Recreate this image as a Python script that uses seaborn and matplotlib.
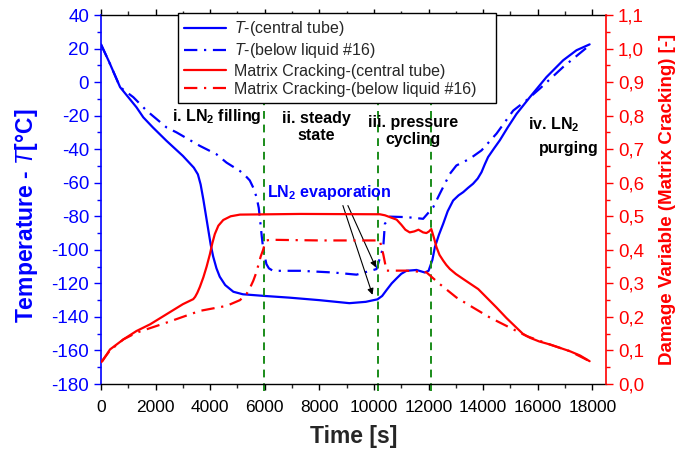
import numpy as np
import matplotlib
matplotlib.use("Agg")
import matplotlib.pyplot as plt
from matplotlib.ticker import MultipleLocator, FuncFormatter
import seaborn as sns

sns.set_style("ticks")
plt.rcParams['font.family'] = ['Liberation Sans', 'DejaVu Sans']
plt.rcParams['mathtext.fontset'] = 'custom'
plt.rcParams['mathtext.rm'] = 'Liberation Sans'
plt.rcParams['mathtext.it'] = 'Liberation Sans:italic'
plt.rcParams['mathtext.bf'] = 'Liberation Sans:bold'
plt.rcParams['axes.unicode_minus'] = False

# temperature, central tube
t_central = [0, 300, 700, 1000, 1300, 1550, 1900, 2400, 3000, 3400, 3550, 3650, 3750, 3850, 3930,
             4020, 4110, 4230, 4350, 4550, 4850, 5200, 6000, 6900, 8000, 9100, 9700, 10130, 10300,
             10460, 10650, 10830, 11000, 11190, 11560, 11860, 12000, 12140, 12230, 12380, 12535,
             12700, 12900, 13100, 13270, 13450, 13630, 13800, 13940, 14060, 14180, 14400, 14610,
             14900, 15220, 15710, 16320, 16930, 17420, 17900]
T_central = [22.5, 12, -3, -9, -15, -21, -27, -35, -44, -51, -55, -61, -70, -80, -88,
             -97, -104, -111, -116, -121, -125, -126.5, -127.5, -128.5, -130, -131.8, -131, -129.5, -127.5,
             -124, -120, -117, -114.3, -112.5, -112, -113.5, -112.5, -106, -98.5, -91, -84.5,
             -77, -70.6, -67.5, -65.6, -63, -60.6, -57.5, -53.7, -49, -44.7, -39.5, -34.7,
             -27, -19, -9, 3, 13, 19, 22.5]

# temperature, below liquid #16
t_below = [0, 300, 700, 1185, 1670, 2400, 2770, 3620, 4230, 4600, 5090, 5300, 5450, 5580, 5700,
           5780, 5840, 5890, 5940, 6000, 6060, 6150, 6300, 7300, 8500, 9360, 10090, 10340, 10400,
           10580, 11200, 11800, 12170, 12410, 12780, 13020, 13510, 13940, 14490, 15100, 15590,
           16080, 16930, 17900]
T_below = [22.5, 12, -3, -9, -17, -27, -30, -38, -43, -48, -53, -56, -58.6, -63, -68.6,
           -75, -84, -92, -99, -104, -108.5, -111, -112.5, -112.5, -113.5, -114.8, -111.5, -98.5, -84.5,
           -80.2, -80.5, -81.5, -74.6, -66.6, -54.7, -49.7, -45.7, -40.7, -30.7, -17, -10.8,
           -3.8, 9, 22]

# damage variable, central tube
d_central_t = [0, 60, 330, 820, 1300, 1800, 2400, 3000, 3380, 3450, 3530, 3625, 3750, 3870, 3990,
               4080, 4170, 4300, 4480, 4750, 5090, 7300, 10215, 10400, 10600, 10830, 11000, 11150,
               11310, 11480, 11630, 11800, 11920, 12020, 12100, 12200, 12290, 12400, 12535, 12650,
               12780, 13000, 13270, 13820, 14100, 14490, 14850, 15220, 15450, 15710, 16050, 16440,
               17170, 17550, 17900]
D_central = [0.065, 0.069, 0.103, 0.133, 0.158, 0.178, 0.208, 0.238, 0.253, 0.26, 0.272, 0.29, 0.318, 0.35, 0.387,
             0.42, 0.447, 0.472, 0.489, 0.5, 0.505, 0.507, 0.506, 0.503, 0.497, 0.49, 0.475, 0.46,
             0.452, 0.455, 0.46, 0.452, 0.45, 0.455, 0.462, 0.435, 0.408, 0.385, 0.368, 0.355,
             0.343, 0.328, 0.313, 0.283, 0.26, 0.228, 0.197, 0.168, 0.15, 0.138, 0.127, 0.118,
             0.098, 0.085, 0.068]

# damage variable, below liquid #16
d_below_t = [0, 330, 820, 1300, 2400, 3620, 4600, 5090, 5330, 5450, 5580, 5680, 5760, 5850, 5940,
             6000, 6070, 6200, 8000, 10215, 10340, 10460, 11190, 11920, 12410, 13020, 13630, 14250,
             14860, 15590, 16440, 17170, 17900]
D_below = [0.065, 0.1, 0.133, 0.153, 0.183, 0.218, 0.233, 0.25, 0.268, 0.285, 0.308, 0.33, 0.353, 0.38, 0.40,
           0.418, 0.428, 0.43, 0.428, 0.428, 0.387, 0.338, 0.338, 0.333, 0.298, 0.258, 0.228, 0.198,
           0.173, 0.143, 0.118, 0.098, 0.068]

phase_lines = [5970, 10140, 12100]

BLUE = '#0000ff'
RED = '#ff0000'
dashdot = (0, (6, 3, 1, 3))

fig = plt.figure(figsize=(6.94, 4.55), dpi=100)
ax = fig.add_axes([0.1455, 0.156, 0.7277, 0.811])
ax2 = ax.twinx()

sns.lineplot(x=t_central, y=T_central, ax=ax, color=BLUE, lw=1.6, sort=False,
             estimator=None, label='$T$-(central tube)')
sns.lineplot(x=t_below, y=T_below, ax=ax, color=BLUE, lw=1.6, sort=False,
             estimator=None, ls=dashdot, label='$T$-(below liquid #16)')
sns.lineplot(x=d_central_t, y=D_central, ax=ax2, color=RED, lw=1.6, sort=False,
             estimator=None, label='Matrix Cracking-(central tube)')
sns.lineplot(x=d_below_t, y=D_below, ax=ax2, color=RED, lw=1.6, sort=False,
             estimator=None, ls=dashdot, label='Matrix Cracking-(below liquid #16)')

for xv in phase_lines:
    ax.axvline(xv, ymin=-0.02, ymax=1, color='#1a8c1a', lw=1.4, ls=(0, (4, 3)), clip_on=False)

ax.set_xlim(0, 18500)
ax.set_ylim(-180, 40)
ax2.set_ylim(0, 1.1)

ax.xaxis.set_major_locator(MultipleLocator(2000))
ax.xaxis.set_minor_locator(MultipleLocator(1000))
ax.yaxis.set_major_locator(MultipleLocator(20))
ax.yaxis.set_minor_locator(MultipleLocator(10))
ax2.yaxis.set_major_locator(MultipleLocator(0.1))
ax2.yaxis.set_minor_locator(MultipleLocator(0.05))
ax2.yaxis.set_major_formatter(FuncFormatter(lambda v, p: f"{v:.1f}".replace('.', ',')))

ax.tick_params(axis='x', which='major', direction='out', length=4.5, width=1, labelsize=12.5,
               colors='black', top=True, pad=7)
ax.tick_params(axis='x', which='minor', direction='out', length=3, width=1, top=True)
ax.tick_params(axis='y', which='major', direction='out', length=5, width=1, labelsize=13.5,
               colors=BLUE)
ax.tick_params(axis='y', which='minor', direction='out', length=3, width=1, colors=BLUE)
ax2.tick_params(axis='y', which='major', direction='out', length=5, width=1, labelsize=13.5,
                colors=RED)
ax2.tick_params(axis='y', which='minor', direction='out', length=3, width=1, colors=RED)

for s in ['top', 'bottom']:
    ax.spines[s].set_color('black')
    ax.spines[s].set_linewidth(1)
ax.spines['left'].set_color(BLUE)
ax.spines['left'].set_linewidth(1.2)
ax.spines['right'].set_visible(False)
for s in ['left', 'top', 'bottom']:
    ax2.spines[s].set_visible(False)
ax2.spines['right'].set_color(RED)
ax2.spines['right'].set_linewidth(1.2)

ax.set_xlabel('Time [s]', fontsize=16.5, fontweight='bold', labelpad=7)
ax.set_ylabel('Temperature - $T$[°C]', fontsize=16.5, fontweight='bold', color=BLUE)
ax.yaxis.set_label_coords(-0.121, 0.455)
ax2.set_ylabel('Damage Variable (Matrix Cracking) [-]', fontsize=13.5, fontweight='bold',
               color=RED, labelpad=11)

txt = dict(fontsize=11.5, fontweight='bold', ha='center', va='center', color='black',
           linespacing=1.15)
ax.text(4237, -20.5, 'i. LN$_\\mathbf{2}$ filling', **txt)
ax.text(7880, -27, 'ii. steady\nstate', **txt)
ax.text(11437, -29, 'iii. pressure\ncycling', **txt)
ax.text(16590, -25.2, 'iv. LN$_\\mathbf{2}$', **txt)
ax.text(17139, -39.5, 'purging', **txt)
ax.text(8350, -65.6, 'LN$_\\mathbf{2}$ evaporation', fontsize=11.5, fontweight='bold',
        ha='center', va='center', color=BLUE)

arrow = dict(arrowstyle='-|>', color='black', lw=0.8, mutation_scale=9, shrinkA=0, shrinkB=0)
ax.annotate('', xy=(9947, -126.8), xytext=(8862, -73.6), arrowprops=arrow)
ax.annotate('', xy=(10071, -110.5), xytext=(9045, -73.6), arrowprops=arrow)

h1, l1 = ax.get_legend_handles_labels()
h2, l2 = ax2.get_legend_handles_labels()
if ax.get_legend() is not None:
    ax.get_legend().remove()
leg = ax2.legend(h1 + h2, l1 + l2, loc='upper left', bbox_to_anchor=(0.152, 0.5, 0.63, 0.506),
                 mode='expand', borderaxespad=0, fontsize=11.5, frameon=True, fancybox=False,
                 handlelength=2.6, labelspacing=0.2, borderpad=0.4, handletextpad=0.5)
leg.get_frame().set_edgecolor('black')
leg.get_frame().set_linewidth(1)
leg.get_frame().set_alpha(1)

fig.savefig('out.png', dpi=100)
